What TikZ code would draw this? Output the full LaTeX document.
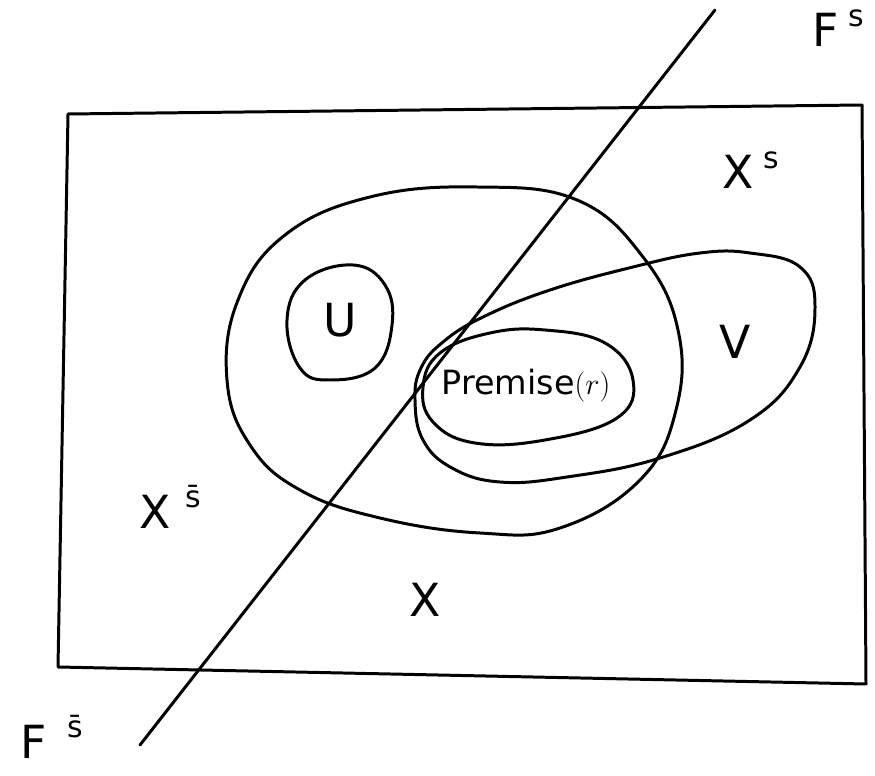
\documentclass[tikz,border=0pt]{standalone}
\usepackage{fontspec}
\setsansfont{DejaVu Sans}
\usetikzlibrary{positioning}
\tikzset{
  font=\sffamily,
  setline/.style={draw=black, line width=1.7pt, line join=round, line cap=round},
  biglabel/.style={font=\sffamily\fontsize{26}{30}\selectfont, inner sep=1pt},
  suplabel/.style={font=\sffamily\fontsize{17}{20}\selectfont, inner sep=1pt, anchor=north west}
}
\newcommand{\sbar}{s^^^^0304}
\begin{document}
\begin{tikzpicture}[x=0.02cm, y=-0.02cm]
  \useasboundingbox (0,0) rectangle (875,776);

  % Universe X
  \draw[setline] (68,114) -- (862,105) -- (866,684) -- (58,667) -- cycle;

  % Separating line F
  \draw[setline] (715,10) -- (140,745);

  % big set
  \draw[setline] plot[smooth cycle, tension=0.7] coordinates {
    (477,187) (577,200) (643,257) (678,330) (676,410) (640,480) (560,528)
    (480,533) (380,518) (300,490) (250,445) (227,380) (238,300) (285,235) (370,197)};
  % V
  \draw[setline] plot[smooth cycle, tension=0.7] coordinates {
    (415,400) (423,440) (452,468) (500,482) (567,477) (660,458) (750,420)
    (800,367) (815,307) (800,267) (750,253) (700,253) (633,267) (550,290)
    (483,317) (443,342) (421,368)};
  % Premise(r)
  \draw[setline] plot[smooth cycle, tension=0.7] coordinates {
    (423,387) (440,353) (490,333) (545,330) (605,343) (633,380) (617,418)
    (545,440) (475,443) (433,422)};
  % U
  \draw[setline] plot[smooth cycle, tension=0.7] coordinates {
    (353,265) (385,285) (392,325) (375,368) (330,380) (300,368) (287,320) (305,280)};

  % Labels
  \node[biglabel] (xs) at (738,172) {X};
  \node[suplabel] (xs_sup) at ([xshift=3pt, yshift=2pt]xs.north east) {s};
  \node[biglabel] (v) at (735,342) {V};
  \node[biglabel] (u) at (340,320) {U};
  \node[font=\sffamily\fontsize{19}{23}\selectfont] (premise) at (526,386) {Premise$(r)$};
  \node[biglabel] (xsb) at (155,512) {X};
  \node[suplabel] (xsb_sup) at ([xshift=6pt, yshift=6pt]xsb.north east) {\sbar};
  \node[biglabel] (x) at (425,600) {X};
  \node[biglabel] (fs) at (826,30) {F};
  \node[suplabel] (fs_sup) at ([xshift=3pt, yshift=2pt]fs.north east) {s};
  \node[biglabel] (fsb) at (34,742) {F};
  \node[suplabel] (fsb_sup) at ([xshift=9pt, yshift=6pt]fsb.north east) {\sbar};
\end{tikzpicture}
\end{document}
